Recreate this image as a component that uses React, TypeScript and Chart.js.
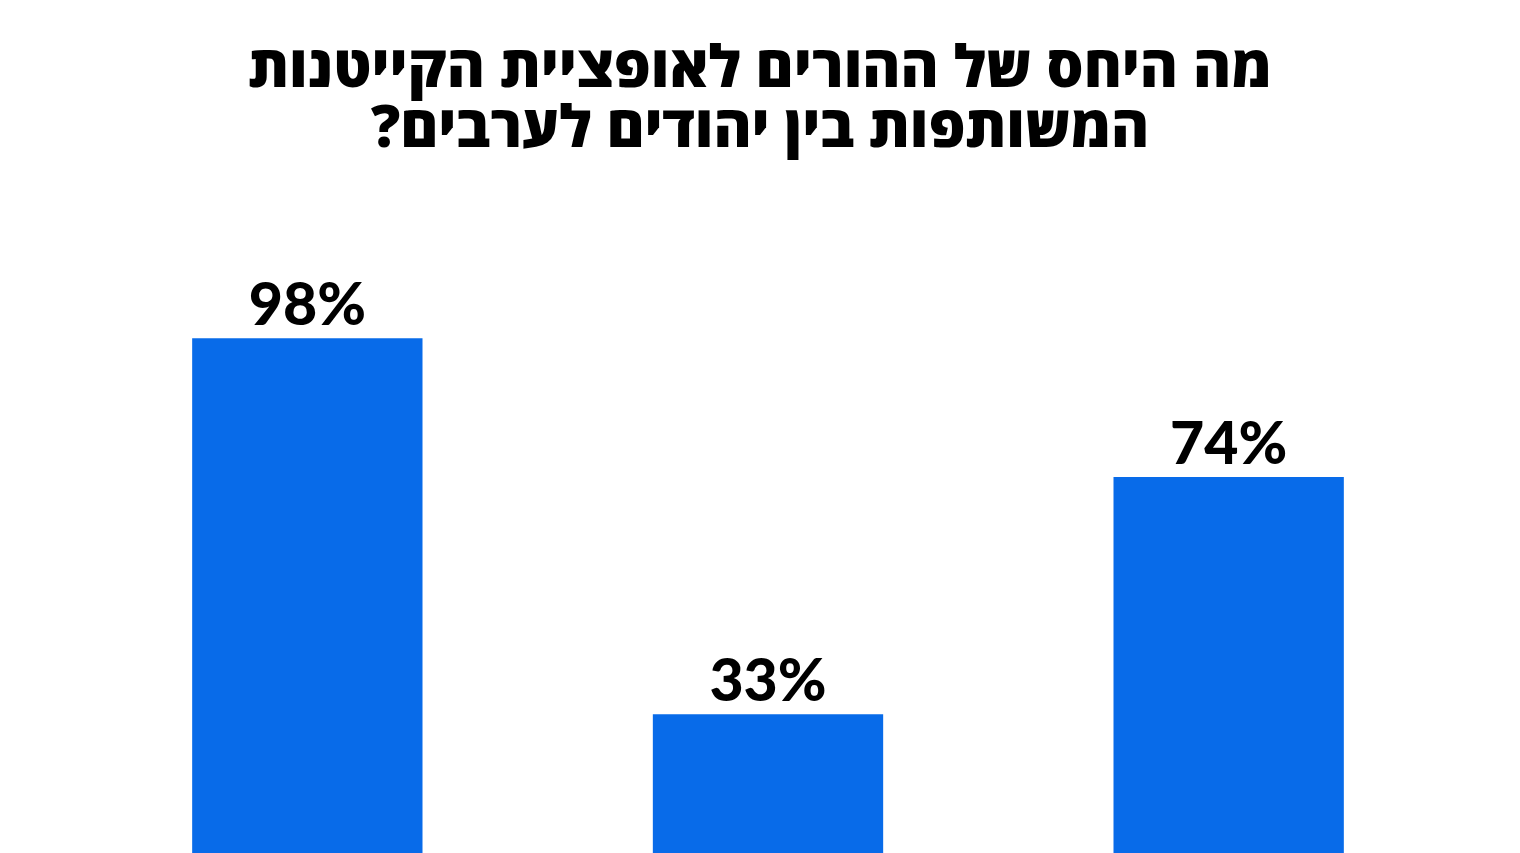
import { useEffect, useRef } from "react";
import { Chart, registerables, type ChartConfiguration, type Plugin } from "chart.js";

Chart.register(...registerables);

const titleLines = ["מה היחס של ההורים לאופציית הקייטנות", "המשותפות בין יהודים לערבים?\u200F"];
const categories = ["א", "ב", "ג"];
const percents = [98, 33, 74];
const barColor = "#086be9";

// title centred on the whole canvas, not on the padded chart area
const pageTitle: Plugin<"bar"> = {
  id: "pageTitle",
  afterDraw(chart) {
    const ctx = chart.ctx;
    ctx.save();
    ctx.font = "800 58px 'Open Sans', 'Liberation Sans', 'DejaVu Sans', sans-serif";
    ctx.fillStyle = "#000";
    ctx.textAlign = "center";
    ctx.textBaseline = "middle";
    titleLines.forEach((line, i) => {
      ctx.fillText(line, chart.width / 2, 70 + i * 60);
    });
    ctx.restore();
  },
};

// draws "98%" etc above each bar
const valueLabels: Plugin<"bar"> = {
  id: "valueLabels",
  afterDatasetsDraw(chart) {
    const ctx = chart.ctx;
    const meta = chart.getDatasetMeta(0);
    ctx.save();
    ctx.font = "900 59px Lato, 'DejaVu Sans', sans-serif";
    ctx.fillStyle = "#000";
    ctx.textAlign = "center";
    ctx.textBaseline = "alphabetic";
    meta.data.forEach((bar, i) => {
      ctx.fillText(`${percents[i]}%`, bar.x, bar.y - 13);
    });
    ctx.restore();
  },
};

export default function App() {
  const canvasRef = useRef<HTMLCanvasElement | null>(null);
  const chartRef = useRef<Chart | null>(null);

  useEffect(() => {
    document.body.style.margin = "0";
    if (!canvasRef.current) return;
    const ctx = canvasRef.current.getContext("2d");
    if (!ctx) return;

    const config: ChartConfiguration<"bar"> = {
      type: "bar",
      data: {
        labels: categories,
        datasets: [
          {
            data: percents,
            backgroundColor: barColor,
            borderWidth: 0,
            barPercentage: 1,
            categoryPercentage: 0.5,
          },
        ],
      },
      options: {
        animation: false,
        responsive: true,
        maintainAspectRatio: false,
        layout: { padding: { left: 77, right: 61, top: 211, bottom: 0 } },
        plugins: {
          legend: { display: false },
          tooltip: { enabled: false },
          title: { display: false },
        },
        scales: {
          x: { display: false },
          y: { display: false, min: 0, max: 120 },
        },
      },
      plugins: [valueLabels, pageTitle],
    };

    chartRef.current = new Chart(ctx, config);
    return () => {
      chartRef.current?.destroy();
      chartRef.current = null;
    };
  }, []);

  return (
    <div style={{ position: "fixed", left: 0, top: 0, width: 1520, height: 853, overflow: "hidden", background: "#fff" }}>
      <div style={{ position: "relative", width: 1520, height: 905 }}>
        <canvas ref={canvasRef} />
      </div>
    </div>
  );
}
